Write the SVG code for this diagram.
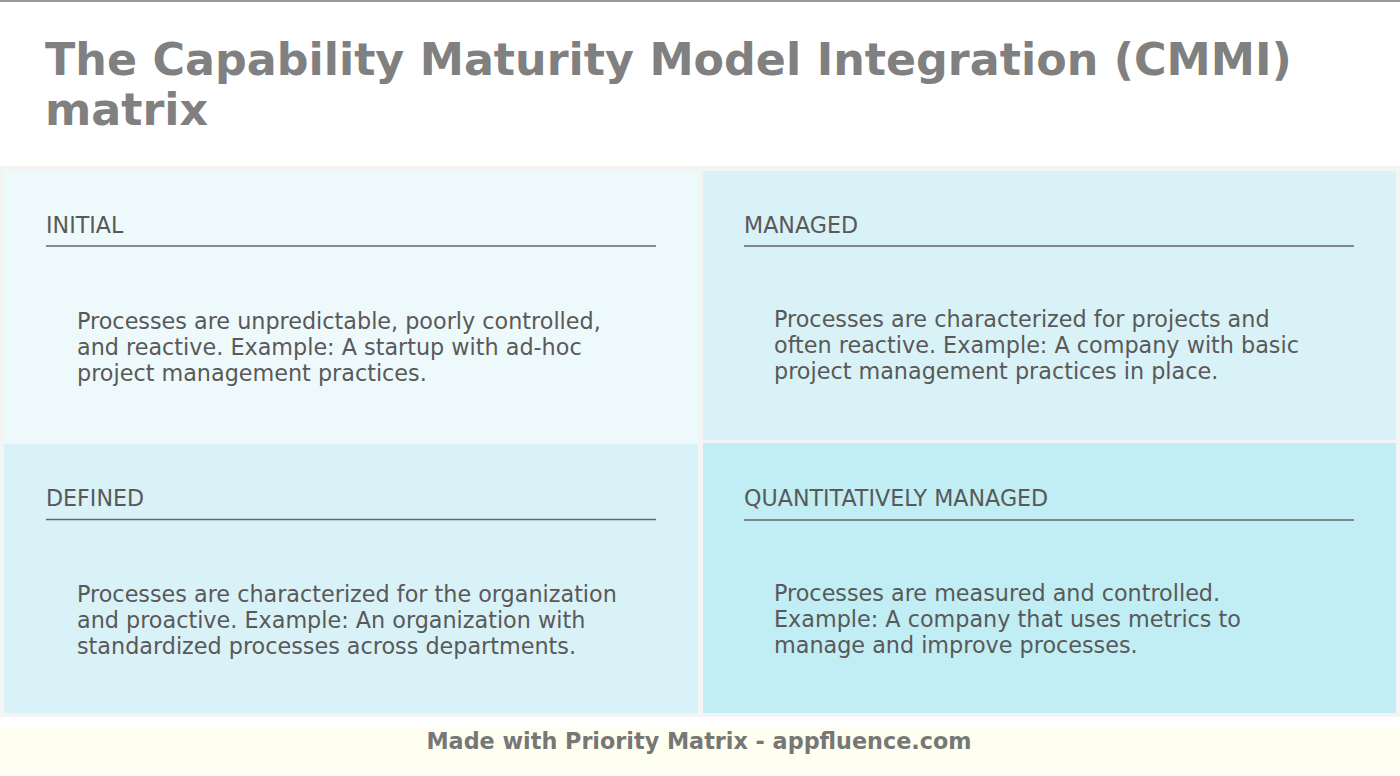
<svg xmlns="http://www.w3.org/2000/svg" width="1400" height="776" viewBox="0 0 1400 776">
<style>
.title{font-family:"DejaVu Sans",sans-serif;font-weight:bold;font-size:44.4px;fill:#808080}
.hdr{font-family:"DejaVu Sans",sans-serif;font-size:22.2px;fill:#595959}
.body{font-family:"DejaVu Sans",sans-serif;font-size:22.3px;fill:#595959}
.rule{stroke:#666666;stroke-width:1.5}
.foot{font-family:"DejaVu Sans",sans-serif;font-weight:bold;font-size:22.3px;fill:#777777}
</style>
<rect x="0" y="0" width="1400" height="776" fill="#ffffff"/>
<rect x="0" y="0" width="1400" height="2" fill="#9a9a9a"/>
<g id="title">
<text class="title" x="45" y="75">The Capability Maturity Model Integration (CMMI)</text>
<text class="title" x="45" y="125">matrix</text>
</g>
<rect x="0" y="166" width="1400" height="551" fill="#f4f4f4"/>
<g id="initial">
<rect x="4" y="171" width="696" height="272" fill="#eef9fb"/>
<text class="hdr" x="46" y="233">INITIAL</text>
<line class="rule" x1="46" y1="246" x2="656" y2="246"/>
<text class="body" x="77" y="329">Processes are unpredictable, poorly controlled,</text>
<text class="body" x="77" y="355">and reactive. Example: A startup with ad-hoc</text>
<text class="body" x="77" y="381">project management practices.</text>
</g>
<g id="managed">
<rect x="703" y="171" width="693" height="269" fill="#d9f2f7"/>
<text class="hdr" x="744" y="233">MANAGED</text>
<line class="rule" x1="744" y1="246" x2="1354" y2="246"/>
<text class="body" x="774" y="327">Processes are characterized for projects and</text>
<text class="body" x="774" y="353">often reactive. Example: A company with basic</text>
<text class="body" x="774" y="379">project management practices in place.</text>
</g>
<g id="defined">
<rect x="4" y="444" width="694" height="269" fill="#d9f2f7"/>
<text class="hdr" x="46" y="506">DEFINED</text>
<line class="rule" x1="46" y1="519.5" x2="656" y2="519.5"/>
<text class="body" x="77" y="602">Processes are characterized for the organization</text>
<text class="body" x="77" y="628">and proactive. Example: An organization with</text>
<text class="body" x="77" y="654">standardized processes across departments.</text>
</g>
<g id="quantitatively-managed">
<rect x="703" y="443" width="693" height="270" fill="#c0eef4"/>
<text class="hdr" x="744" y="506">QUANTITATIVELY MANAGED</text>
<line class="rule" x1="744" y1="520" x2="1354" y2="520"/>
<text class="body" x="774" y="601">Processes are measured and controlled.</text>
<text class="body" x="774" y="627">Example: A company that uses metrics to</text>
<text class="body" x="774" y="653">manage and improve processes.</text>
</g>
<g id="connectors"/>
<g id="footer">
<rect x="0" y="728" width="1400" height="48" fill="#fefff0"/>
<text class="foot" x="699" y="749" text-anchor="middle">Made with Priority Matrix - appfluence.com</text>
</g>
</svg>
